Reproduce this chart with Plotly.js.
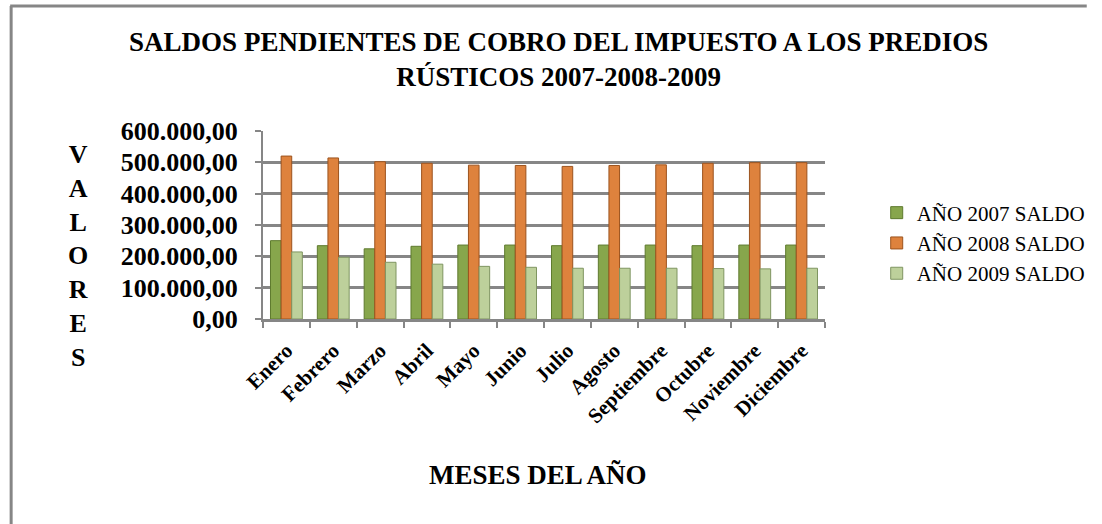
<!DOCTYPE html>
<html>
<head>
<meta charset="utf-8">
<script src="https://cdn.plot.ly/plotly-3.0.1.min.js"></script>
<style>html,body{margin:0;padding:0;background:#fff;}#chart{width:1102px;height:524px;}</style>
</head>
<body>
<div id="chart"></div>
<script>
const months = ["Enero","Febrero","Marzo","Abril","Mayo","Junio","Julio","Agosto","Septiembre","Octubre","Noviembre","Diciembre"];
const saldo2007 = [250000, 234000, 224000, 232000, 236000, 236000, 234000, 236000, 236000, 234000, 236000, 236000];
const saldo2008 = [520000, 514000, 502000, 497000, 491000, 490000, 487000, 490000, 492000, 497000, 499000, 499000];
const saldo2009 = [214000, 197000, 181000, 175000, 168000, 165000, 162000, 162000, 162000, 161000, 160000, 162000];
const seriesNames = ["AÑO 2007 SALDO", "AÑO 2008 SALDO", "AÑO 2009 SALDO"];
const yTicks = [0, 100000, 200000, 300000, 400000, 500000, 600000];
const titleText = "SALDOS PENDIENTES DE COBRO DEL IMPUESTO A LOS PREDIOS<br>RÚSTICOS 2007-2008-2009";
const xTitleText = "MESES DEL AÑO";
const yTitleLetters = ["V","A","L","O","R","E","S"];

const colors = ["#87A64C", "#DE823D", "#BDD09B"];
const edges = ["#5E7A2E", "#9C531E", "#7F9561"];
const serif = "Liberation Serif, Times New Roman, serif";

const traces = [saldo2007, saldo2008, saldo2009].map((vals, i) => ({
  type: "bar",
  name: seriesNames[i],
  x: months,
  y: vals,
  marker: {color: colors[i], line: {color: edges[i], width: 1}},
  hoverinfo: "skip"
}));

const layout = {
  width: 1102, height: 524,
  margin: {l: 263, r: 270, t: 131, b: 205},
  paper_bgcolor: "#ffffff", plot_bgcolor: "#ffffff",
  separators: ",.",
  barmode: "group", bargap: 0.32, bargroupgap: 0,
  showlegend: true,
  font: {family: serif, color: "#000"},
  title: {
    text: titleText,
    font: {family: serif, size: 27, color: "#000", weight: "bold"},
    xref: "container", x: 0.507, xanchor: "center",
    yref: "container", y: 1 - 51/524, yanchor: "middle"
  },
  legend: {
    x: 1.092, xanchor: "left", y: (319-243)/188, yanchor: "middle",
    font: {family: serif, size: 21, color: "#000"},
    bgcolor: "rgba(0,0,0,0)", itemwidth: 30
  },
  xaxis: {
    type: "category",
    showgrid: false,
    showline: true, linecolor: "#868686", linewidth: 3,
    ticks: "outside", tickson: "boundaries", ticklen: 6, tickwidth: 2, tickcolor: "#868686",
    tickangle: -45,
    ticklabelstandoff: 8,
    tickfont: {family: serif, size: 21, color: "#000", weight: "bold"},
    fixedrange: true
  },
  yaxis: {
    range: [0, 600000],
    tickvals: yTicks,
    tickformat: ",.2f",
    showgrid: true, gridcolor: "#868686", gridwidth: 3,
    zeroline: false,
    showline: true, linecolor: "#868686", linewidth: 2,
    ticks: "outside", ticklen: 6, tickwidth: 2, tickcolor: "#868686",
    ticklabelstandoff: 12,
    tickfont: {family: serif, size: 26, color: "#000", weight: "bold"},
    fixedrange: true
  },
  annotations: [
    {
      text: xTitleText, xref: "paper", yref: "paper",
      x: (541-263)/569, y: (319-475)/188, xanchor: "center", yanchor: "middle",
      showarrow: false, font: {family: serif, size: 27, color: "#000", weight: "bold"}
    },
    {
      text: yTitleLetters.join("<br>"), xref: "paper", yref: "paper",
      x: (76-263)/569, y: (319-256)/188, xanchor: "center", yanchor: "middle",
      showarrow: false, align: "center",
      font: {family: serif, size: 26, color: "#000", weight: "bold"}
    }
  ],
  shapes: [
    {type: "line", xref: "paper", yref: "paper", x0: (8-263)/569, x1: (8-263)/569, y0: (319-6)/188, y1: (319-530)/188, line: {color: "#868686", width: 3}},
    {type: "line", xref: "paper", yref: "paper", x0: (7-263)/569, x1: (1097-263)/569, y0: (319-6)/188, y1: (319-6)/188, line: {color: "#868686", width: 3}}
  ]
};

Plotly.newPlot("chart", traces, layout, {displayModeBar: false, staticPlot: true});
</script>
</body>
</html>
